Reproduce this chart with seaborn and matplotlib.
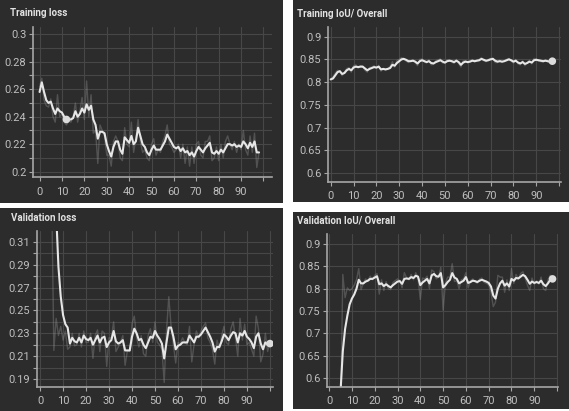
import matplotlib
matplotlib.use("Agg")
import matplotlib.pyplot as plt
import numpy as np
import seaborn as sns

# Valores (TensorBoard, modo oscuro)
train_loss_smooth = [0.258, 0.265, 0.258, 0.252, 0.250, 0.251, 0.246, 0.242, 0.246, 0.244,
                     0.243, 0.240, 0.238, 0.238, 0.238, 0.239, 0.244, 0.240, 0.242, 0.246,
                     0.243, 0.249, 0.245, 0.248, 0.238, 0.234, 0.224, 0.229, 0.229, 0.228,
                     0.220, 0.215, 0.211, 0.218, 0.222, 0.222, 0.216, 0.213, 0.225, 0.223,
                     0.221, 0.226, 0.220, 0.222, 0.232, 0.226, 0.220, 0.218, 0.214, 0.212,
                     0.216, 0.219, 0.216, 0.216, 0.216, 0.219, 0.222, 0.227, 0.224, 0.221,
                     0.218, 0.217, 0.218, 0.215, 0.217, 0.214, 0.215, 0.212, 0.214, 0.211,
                     0.215, 0.218, 0.216, 0.214, 0.217, 0.219, 0.221, 0.214, 0.213, 0.215,
                     0.213, 0.216, 0.214, 0.217, 0.220, 0.220, 0.219, 0.220, 0.218, 0.219,
                     0.218, 0.222, 0.220, 0.217, 0.221, 0.218, 0.222, 0.214, 0.214]
train_loss_raw = [0.262, 0.268, 0.252, 0.248, 0.247, 0.253, 0.240, 0.236, 0.256, 0.240,
                  0.242, 0.236, 0.234, 0.237, 0.236, 0.240, 0.250, 0.236, 0.244, 0.254,
                  0.238, 0.266, 0.240, 0.256, 0.228, 0.230, 0.206, 0.234, 0.230, 0.226,
                  0.212, 0.212, 0.204, 0.222, 0.226, 0.222, 0.210, 0.208, 0.232, 0.220,
                  0.218, 0.236, 0.214, 0.224, 0.238, 0.222, 0.214, 0.216, 0.210, 0.208,
                  0.220, 0.224, 0.212, 0.216, 0.214, 0.222, 0.226, 0.234, 0.220, 0.218,
                  0.214, 0.216, 0.220, 0.210, 0.220, 0.206, 0.218, 0.204, 0.218, 0.206,
                  0.220, 0.222, 0.212, 0.210, 0.222, 0.222, 0.226, 0.208, 0.210, 0.218,
                  0.208, 0.220, 0.210, 0.222, 0.226, 0.220, 0.216, 0.222, 0.214, 0.220,
                  0.216, 0.230, 0.216, 0.212, 0.226, 0.214, 0.228, 0.203, 0.214]

train_iou_smooth = [0.806, 0.808, 0.815, 0.822, 0.824, 0.818, 0.820, 0.826, 0.829, 0.826,
                    0.832, 0.834, 0.833, 0.834, 0.834, 0.830, 0.826, 0.829, 0.831, 0.833,
                    0.832, 0.834, 0.828, 0.829, 0.828, 0.829, 0.831, 0.838, 0.836, 0.842,
                    0.846, 0.850, 0.851, 0.849, 0.846, 0.846, 0.847, 0.845, 0.841, 0.846,
                    0.848, 0.846, 0.844, 0.846, 0.842, 0.841, 0.844, 0.846, 0.848, 0.845,
                    0.843, 0.846, 0.847, 0.846, 0.844, 0.847, 0.844, 0.838, 0.843, 0.845,
                    0.844, 0.845, 0.847, 0.846, 0.847, 0.848, 0.851, 0.849, 0.847, 0.848,
                    0.850, 0.851, 0.847, 0.845, 0.846, 0.845, 0.846, 0.848, 0.850, 0.848,
                    0.845, 0.847, 0.843, 0.841, 0.844, 0.840, 0.842, 0.845, 0.843, 0.848,
                    0.849, 0.848, 0.847, 0.846, 0.847, 0.846, 0.845, 0.846]
train_iou_raw = [0.806, 0.812, 0.820, 0.826, 0.824, 0.814, 0.822, 0.830, 0.832, 0.822,
                 0.836, 0.838, 0.831, 0.836, 0.835, 0.826, 0.822, 0.832, 0.833, 0.836,
                 0.830, 0.837, 0.824, 0.830, 0.826, 0.830, 0.834, 0.845, 0.833, 0.848,
                 0.850, 0.854, 0.852, 0.846, 0.843, 0.847, 0.849, 0.843, 0.836, 0.850,
                 0.851, 0.844, 0.842, 0.849, 0.838, 0.839, 0.847, 0.849, 0.851, 0.842,
                 0.841, 0.849, 0.849, 0.844, 0.841, 0.850, 0.841, 0.833, 0.847, 0.847,
                 0.842, 0.847, 0.849, 0.844, 0.849, 0.850, 0.854, 0.847, 0.845, 0.850,
                 0.852, 0.853, 0.843, 0.843, 0.848, 0.843, 0.847, 0.850, 0.852, 0.846,
                 0.842, 0.850, 0.840, 0.838, 0.847, 0.836, 0.843, 0.848, 0.840, 0.852,
                 0.851, 0.846, 0.845, 0.844, 0.849, 0.844, 0.843, 0.847]

val_loss_smooth = [0.620, 0.560, 0.500, 0.450, 0.410, 0.375, 0.350, 0.335, 0.288, 0.262,
                   0.246, 0.238, 0.235, 0.221, 0.226, 0.223, 0.222, 0.226, 0.222, 0.228,
                   0.225, 0.224, 0.226, 0.220, 0.224, 0.228, 0.222, 0.226, 0.227, 0.218,
                   0.222, 0.224, 0.232, 0.223, 0.221, 0.222, 0.224, 0.215, 0.215, 0.215,
                   0.227, 0.234, 0.230, 0.224, 0.225, 0.220, 0.217, 0.222, 0.227, 0.226,
                   0.232, 0.228, 0.225, 0.221, 0.208, 0.222, 0.235, 0.235, 0.227, 0.216,
                   0.219, 0.220, 0.222, 0.222, 0.222, 0.228, 0.225, 0.222, 0.227, 0.227,
                   0.229, 0.232, 0.235, 0.231, 0.227, 0.222, 0.214, 0.218, 0.218, 0.223,
                   0.229, 0.227, 0.224, 0.228, 0.231, 0.230, 0.222, 0.230, 0.228, 0.232,
                   0.227, 0.225, 0.222, 0.217, 0.227, 0.230, 0.221, 0.216, 0.222, 0.220,
                   0.221]
val_loss_raw = [0.700, 0.600, 0.520, 0.460, 0.420, 0.360, 0.215, 0.243, 0.228, 0.236,
                0.224, 0.232, 0.216, 0.218, 0.230, 0.219, 0.220, 0.230, 0.218, 0.232,
                0.222, 0.222, 0.230, 0.208, 0.228, 0.233, 0.214, 0.232, 0.230, 0.201,
                0.226, 0.226, 0.240, 0.214, 0.218, 0.222, 0.228, 0.202, 0.215, 0.214,
                0.238, 0.245, 0.226, 0.218, 0.228, 0.212, 0.210, 0.228, 0.234, 0.222,
                0.240, 0.222, 0.220, 0.216, 0.187, 0.232, 0.262, 0.236, 0.220, 0.204,
                0.222, 0.221, 0.226, 0.222, 0.220, 0.236, 0.205, 0.220, 0.232, 0.226,
                0.232, 0.236, 0.239, 0.226, 0.222, 0.216, 0.203, 0.224, 0.216, 0.228,
                0.236, 0.222, 0.220, 0.234, 0.240, 0.226, 0.210, 0.243, 0.224, 0.238,
                0.220, 0.222, 0.216, 0.210, 0.245, 0.234, 0.205, 0.212, 0.230, 0.214,
                0.222]

val_iou_smooth = [0.300, 0.380, 0.450, 0.500, 0.540, 0.570, 0.660, 0.710, 0.740, 0.765,
                  0.778, 0.787, 0.800, 0.820, 0.812, 0.812, 0.816, 0.818, 0.822, 0.822,
                  0.825, 0.828, 0.810, 0.812, 0.806, 0.810, 0.806, 0.803, 0.808, 0.812,
                  0.816, 0.817, 0.811, 0.822, 0.823, 0.822, 0.826, 0.824, 0.829, 0.827,
                  0.808, 0.814, 0.818, 0.822, 0.812, 0.830, 0.833, 0.828, 0.827, 0.835,
                  0.803, 0.808, 0.815, 0.820, 0.835, 0.825, 0.822, 0.812, 0.815, 0.818,
                  0.826, 0.813, 0.815, 0.818, 0.817, 0.815, 0.818, 0.820, 0.818, 0.816,
                  0.813, 0.805, 0.785, 0.778, 0.800, 0.812, 0.818, 0.807, 0.812, 0.805,
                  0.822, 0.818, 0.824, 0.823, 0.827, 0.831, 0.828, 0.820, 0.811, 0.816,
                  0.813, 0.815, 0.813, 0.818, 0.810, 0.806, 0.812, 0.820, 0.822]
val_iou_raw = [0.320, 0.420, 0.500, 0.550, 0.570, 0.500, 0.832, 0.780, 0.802, 0.796,
               0.800, 0.808, 0.820, 0.845, 0.798, 0.812, 0.822, 0.818, 0.828, 0.820,
               0.830, 0.834, 0.788, 0.820, 0.796, 0.816, 0.800, 0.798, 0.814, 0.818,
               0.822, 0.818, 0.802, 0.836, 0.824, 0.820, 0.832, 0.820, 0.836, 0.824,
               0.776, 0.824, 0.822, 0.828, 0.800, 0.842, 0.838, 0.822, 0.826, 0.848,
               0.752, 0.812, 0.826, 0.826, 0.856, 0.816, 0.818, 0.800, 0.820, 0.822,
               0.836, 0.802, 0.818, 0.822, 0.816, 0.812, 0.822, 0.824, 0.814, 0.812,
               0.808, 0.792, 0.760, 0.770, 0.830, 0.826, 0.826, 0.792, 0.820, 0.796,
               0.845, 0.812, 0.832, 0.822, 0.834, 0.838, 0.824, 0.808, 0.796, 0.824,
               0.810, 0.818, 0.810, 0.826, 0.800, 0.796, 0.820, 0.830, 0.826]

x_ticks = list(range(0, 101, 10))
x_labels = [str(t) for t in range(0, 91, 10)] + [""]

W, H = 569, 411
FONDO = "#2c2c2c"
REJILLA = "#474747"
EJE = "#a6a6a6"
TEXTO = "#bfbfbf"

sns.set_theme(style="dark")
plt.rcParams["font.family"] = ["Roboto", "DejaVu Sans"]

fig = plt.figure(figsize=(W / 100, H / 100), dpi=100, facecolor="white")


def caja(izq, arriba, der, abajo):
    return [izq / W, 1 - abajo / H, (der - izq) / W, (abajo - arriba) / H]


def fondo_panel(izq, arriba, der, abajo):
    r = plt.Rectangle((izq / W, 1 - abajo / H), (der - izq) / W, (abajo - arriba) / H,
                      transform=fig.transFigure, facecolor=FONDO, edgecolor="none", zorder=-5)
    fig.add_artist(r)


def panel(pos, titulo, pos_titulo, suave, crudo, xlim, ylim, y_may, y_men, punto):
    ax = fig.add_axes(caja(*pos))
    ax.set_facecolor(FONDO)
    sns.lineplot(x=np.arange(len(crudo)), y=crudo, ax=ax, color="#9a9a9a",
                 alpha=0.35, linewidth=1.0)
    sns.lineplot(x=np.arange(len(suave)), y=suave, ax=ax, color="#e6e6e6",
                 linewidth=1.5)
    sns.scatterplot(x=[punto], y=[suave[punto]], ax=ax, color="#dcdcdc", s=30,
                    edgecolor="none", zorder=5)
    ax.set_xlim(*xlim)
    ax.set_ylim(*ylim)
    ax.set_xticks(x_ticks)
    ax.set_xticklabels(x_labels)
    ax.set_yticks(y_may)
    ax.set_yticklabels([f"{v:g}" for v in y_may])
    ax.set_yticks(y_men, minor=True)
    ax.grid(True, which="both", color=REJILLA, linewidth=0.8)
    ax.grid(False, which="minor", axis="x")
    ax.set_axisbelow(True)
    for lado in ["top", "right"]:
        ax.spines[lado].set_visible(False)
    for lado in ["left", "bottom"]:
        ax.spines[lado].set_visible(True)
        ax.spines[lado].set_color(EJE)
        ax.spines[lado].set_linewidth(1.2)
    ax.tick_params(axis="both", which="both", colors=EJE, labelcolor=TEXTO,
                   labelsize=8, length=3, width=0.8, pad=2, direction="out",
                   bottom=True, left=True)
    ax.tick_params(axis="x", pad=4)
    ax.set_xlabel("")
    ax.set_ylabel("")
    fig.text(pos_titulo[0] / W, 1 - pos_titulo[1] / H, titulo, color="#e2e2e2",
             fontsize=7, fontweight="bold", va="center", ha="left")
    return ax


# fondos oscuros de cada captura
fondo_panel(0, 0, 283, 203)
fondo_panel(293, 0, 569, 202)
fondo_panel(0, 208, 283, 411)
fondo_panel(293, 212, 569, 409)

panel((33.3, 27, 272, 177), "Training loss", (10, 13),
      train_loss_smooth, train_loss_raw, (-2.8, 103.8), (0.1961, 0.3053),
      [0.2, 0.22, 0.24, 0.26, 0.28, 0.3], [0.21, 0.23, 0.25, 0.27, 0.29], 12)

panel((328.3, 27, 561, 181.7), "Training IoU/ Overall", (297, 14),
      train_iou_smooth, train_iou_raw, (-1.05, 100.8), (0.5815, 0.921),
      [0.6, 0.65, 0.7, 0.75, 0.8, 0.85, 0.9], [], 97)

panel((37.3, 231, 272.7, 386.7), "Validation loss", (11, 218),
      val_loss_smooth, val_loss_raw, (-1.2, 101.2), (0.1833, 0.3194),
      [0.19, 0.21, 0.23, 0.25, 0.27, 0.29, 0.31], [0.2, 0.22, 0.24, 0.26, 0.28, 0.3], 100)

panel((327.3, 234.3, 558, 386.7), "Validation IoU/ Overall", (297, 220),
      val_iou_smooth, val_iou_raw, (-0.8, 100.4), (0.581, 0.9217),
      [0.6, 0.65, 0.7, 0.75, 0.8, 0.85, 0.9], [], 98)

fig.savefig("out.png", dpi=100, facecolor="white")
